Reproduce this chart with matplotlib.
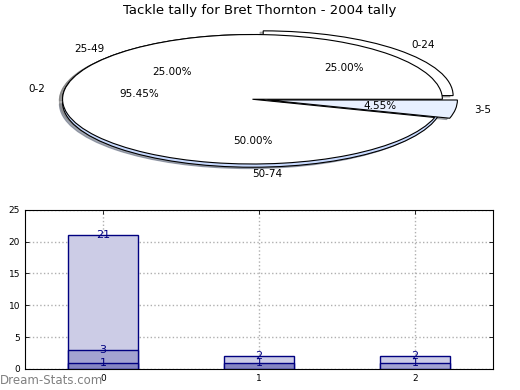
import matplotlib
matplotlib.use("Agg")
import matplotlib.pyplot as plt

title = "Tackle tally for Bret Thornton - 2004 tally"

# pie 1: tackle ranges
pie1_labels = ["0-24", "25-49", "50-74"]
pie1_values = [25, 25, 50]
pie1_colors = ["#ffffff", "#ffffff", "#c8daff"]
pie1_explode = [0.08, 0.0, 0.05]

# pie 2
pie2_labels = ["0-2", "3-5"]
pie2_values = [21, 1]
pie2_colors = ["#ffffff", "#e8f0ff"]
pie2_explode = [0.0, 0.08]

# bars (overlaid)
bar_x = [0, 1, 2]
bar_light = [21, 2, 2]
bar_medium = [3, 0, 1]
bar_dark = [1, 1, 0]
bar_colors = ["#ccccE6", "#a3a3d1", "#8585c2"]
yticks = [0, 5, 10, 15, 20, 25]

fig = plt.figure(figsize=(5.2, 3.9), dpi=100)
fig.text(0.5, 0.973, title, ha="center", va="center", fontsize=9.5)

ax1 = fig.add_axes([0.029, 0.538, 0.913, 0.415])
wp = dict(edgecolor="black", linewidth=0.8)
sh = dict(ox=-0.012, oy=-0.015, shade=0.5, alpha=0.6)
ax1.pie(pie1_values, labels=pie1_labels, colors=pie1_colors, explode=pie1_explode,
        autopct="%.2f%%", shadow=sh, wedgeprops=wp, textprops=dict(fontsize=7.5))
ax1.pie(pie2_values, labels=pie2_labels, colors=pie2_colors, explode=pie2_explode,
        autopct="%.2f%%", shadow=sh, wedgeprops=wp, textprops=dict(fontsize=7.5))
ax1.set_aspect("auto")
ax1.set_xlim(-1.25, 1.25)
ax1.set_ylim(-1.25, 1.25)

ax2 = fig.add_axes([0.048, 0.054, 0.9, 0.408])
w = 0.45
for vals, col in zip([bar_light, bar_medium, bar_dark], bar_colors):
    for x, v in zip(bar_x, vals):
        if v > 0:
            ax2.bar(x, v, width=w, color=col, edgecolor="#000080", linewidth=1.0, zorder=2)
            ax2.text(x, v, str(v), ha="center", va="center", fontsize=8, color="#000080", zorder=3)
ax2.set_xlim(-0.5, 2.5)
ax2.set_ylim(0, 25)
ax2.set_yticks(yticks)
ax2.set_xticks(bar_x)
ax2.tick_params(direction="in", length=3, labelsize=6.5, top=True, right=True, width=0.6)
ax2.grid(True, linestyle=":", color="#b0b0b0", linewidth=1.0, zorder=0)
ax2.set_axisbelow(True)
for s in ax2.spines.values():
    s.set_linewidth(0.8)

fig.text(0.0, 0.025, "Dream-Stats.com", ha="left", va="center", fontsize=8.5, color="#808080")

fig.savefig("out.png", dpi=100)
